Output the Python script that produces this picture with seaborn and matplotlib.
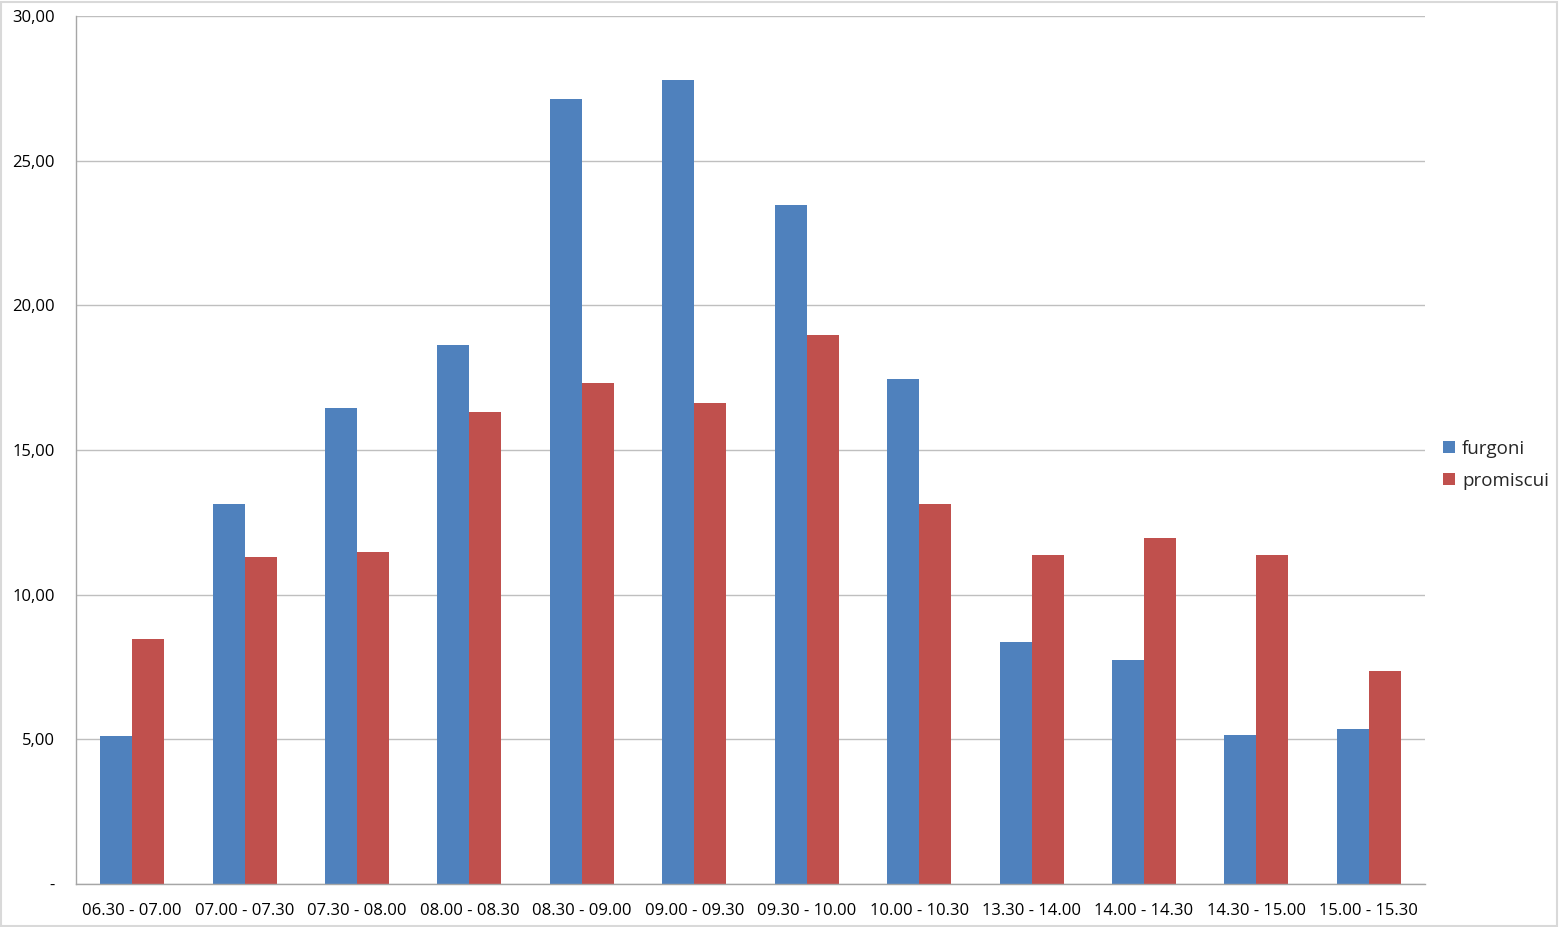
import matplotlib
matplotlib.use("Agg")
import matplotlib.pyplot as plt
import seaborn as sns
import pandas as pd
import numpy as np
from matplotlib.ticker import FuncFormatter, FixedLocator

categories = ["06.30 - 07.00", "07.00 - 07.30", "07.30 - 08.00", "08.00 - 08.30",
              "08.30 - 09.00", "09.00 - 09.30", "09.30 - 10.00", "10.00 - 10.30",
              "13.30 - 14.00", "14.00 - 14.30", "14.30 - 15.00", "15.00 - 15.30"]
furgoni = [5.12, 13.14, 16.45, 18.63, 27.13, 27.79, 23.47, 17.46, 8.37, 7.74, 5.15, 5.36]
promiscui = [8.47, 11.30, 11.48, 16.32, 17.32, 16.63, 18.98, 13.14, 11.37, 11.96, 11.37, 7.36]
series_names = ["furgoni", "promiscui"]
colors = ["#4F81BD", "#C0504D"]

df = pd.DataFrame({
    "fascia": categories * 2,
    "valore": furgoni + promiscui,
    "serie": [series_names[0]] * len(categories) + [series_names[1]] * len(categories),
})

sns.set_theme(style="white")
plt.rcParams['font.family'] = ['Open Sans', 'DejaVu Sans']

fig = plt.figure(figsize=(15.59, 9.27), dpi=100)
ax = fig.add_axes([76 / 1559, 1 - 884 / 927, (1425 - 76) / 1559, (884 - 16) / 927])

sns.barplot(data=df, x="fascia", y="valore", hue="serie", palette=colors,
            width=0.57, saturation=1, ax=ax, legend=True, linewidth=0)

ax.set_ylim(0, 30)
ax.set_xlim(-0.5, len(categories) - 0.5)
ax.set_yticks(np.arange(0, 31, 5))
ax.yaxis.set_major_formatter(FuncFormatter(lambda v, p: "-" if v == 0 else f"{v:.2f}".replace(".", ",")))
ax.grid(axis="y", color="#BFBFBF", linewidth=1)
ax.set_axisbelow(True)
ax.set_xlabel("")
ax.set_ylabel("")

for s in ["top", "right"]:
    ax.spines[s].set_visible(False)
for s in ["left", "bottom"]:
    ax.spines[s].set_color("#A6A6A6")
    ax.spines[s].set_linewidth(1)

ax.tick_params(axis="x", which="major", length=0, labelsize=12, pad=14, colors="black")
ax.xaxis.set_minor_locator(FixedLocator(np.arange(-0.5, len(categories), 1)))
ax.tick_params(axis="x", which="minor", length=5.5, color="#A6A6A6", direction="out")
ax.tick_params(axis="y", which="major", length=4.3, color="#A6A6A6", labelsize=12, pad=11, labelcolor="black")

leg = ax.legend(loc="center left", bbox_to_anchor=(1359 / 1349, 0.483), frameon=False,
                fontsize=13.5, handlelength=0.65, handleheight=0.65, handletextpad=0.4,
                labelspacing=0.75, borderaxespad=0)

fig.patches.append(matplotlib.patches.Rectangle((0.0005, 0.001), 0.998, 0.997, transform=fig.transFigure,
                                                fill=False, edgecolor="#D9D9D9", linewidth=1.5))

fig.savefig("out.png", dpi=100, facecolor="white")
